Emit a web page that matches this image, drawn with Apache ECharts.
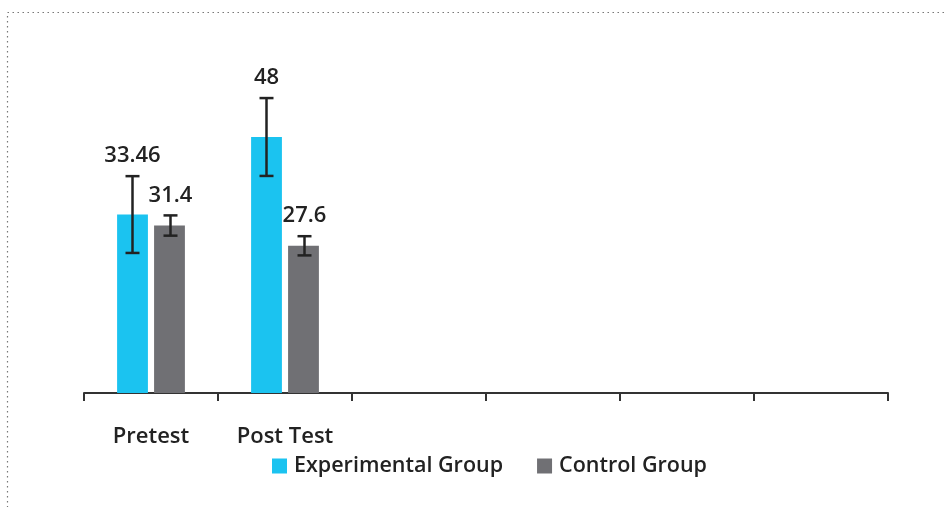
<!DOCTYPE html>
<html>
<head>
<meta charset="utf-8">
<script src="https://cdn.jsdelivr.net/npm/echarts@6/dist/echarts.min.js"></script>
<style>
    html, body { margin: 0; padding: 0; background: #fff; }
    #chart { width: 946px; height: 507px; }
</style>
</head>
<body>
<div id="chart"></div>
<script>
    // data
    var categories = ['Pretest', 'Post Test', '', '', '', '']
    var seriesNames = ['Experimental Group', 'Control Group']
    var experimental = [33.46, 48]
    var control = [31.4, 27.6]
    var experimentalErr = [7.2, 7.3]
    var controlErr = [1.9, 1.8]
    var colors = ['#1BC3F0', '#707074']

    var chart = echarts.init(document.getElementById('chart'))

    // error bar + value label drawn on top of each bar
    function errorSeries (values, errs, idx) {
        var data = values.map(function (v, i) { return [i, v, errs[i]] })
        return {
            type: 'custom',
            name: seriesNames[idx],
            z: 10,
            data: data,
            renderItem: function (params, api) {
                var i = api.value(0)
                var v = api.value(1)
                var e = api.value(2)
                var hi = api.coord([i, v + e])
                var lo = api.coord([i, v - e])
                var size = api.size([1, 0])
                var shift = (idx === 0 ? -1 : 1) * size[0] * 0.14
                var x = Math.round(hi[0] + shift) + 0.5
                var cap = 7
                var style = { stroke: '#222', lineWidth: 2.5 }
                return {
                    type: 'group',
                    children: [
                        { type: 'line', shape: { x1: x, y1: hi[1], x2: x, y2: lo[1] }, style: style },
                        { type: 'line', shape: { x1: x - cap, y1: hi[1], x2: x + cap, y2: hi[1] }, style: style },
                        { type: 'line', shape: { x1: x - cap, y1: lo[1], x2: x + cap, y2: lo[1] }, style: style },
                        {
                            type: 'text',
                            x: x,
                            y: hi[1] - 9,
                            style: {
                                text: String(v),
                                fill: '#222',
                                font: '600 22px "Open Sans"',
                                textAlign: 'center',
                                textVerticalAlign: 'bottom'
                            }
                        }
                    ]
                }
            }
        }
    }

    chart.setOption({
        animation: false,
        color: colors,
        textStyle: { fontFamily: 'Open Sans' },
        graphic: [{
            type: 'rect',
            shape: { x: 7.5, y: 12.5, width: 980, height: 560 },
            style: { fill: 'none', stroke: '#777', lineWidth: 1.2, lineDash: [1.5, 3.5] },
            silent: true
        }],
        grid: { left: 84, right: 58, top: 73, bottom: 114 },
        legend: {
            bottom: 25,
            left: 267,
            itemWidth: 15,
            itemHeight: 15,
            itemGap: 34,
            icon: 'rect',
            data: seriesNames,
            textStyle: { fontSize: 21.5, color: '#222', fontWeight: 600, fontFamily: 'Open Sans', padding: [0, 0, 0, 2] }
        },
        xAxis: {
            type: 'category',
            data: categories,
            axisLine: { lineStyle: { color: '#333', width: 2 } },
            axisTick: { show: true, length: 8, lineStyle: { color: '#333', width: 2 } },
            axisLabel: { margin: 33, fontSize: 22, color: '#222', fontWeight: 600, fontFamily: 'Open Sans', interval: 0 }
        },
        yAxis: {
            type: 'value',
            min: 0,
            max: 60,
            show: false,
            splitLine: { show: false }
        },
        series: [
            {
                name: seriesNames[0],
                type: 'bar',
                barWidth: '23%',
                barGap: '20%',
                data: experimental
            },
            {
                name: seriesNames[1],
                type: 'bar',
                barWidth: '23%',
                barGap: '20%',
                data: control
            },
            errorSeries(experimental, experimentalErr, 0),
            errorSeries(control, controlErr, 1)
        ]
    })
</script>
</body>
</html>
